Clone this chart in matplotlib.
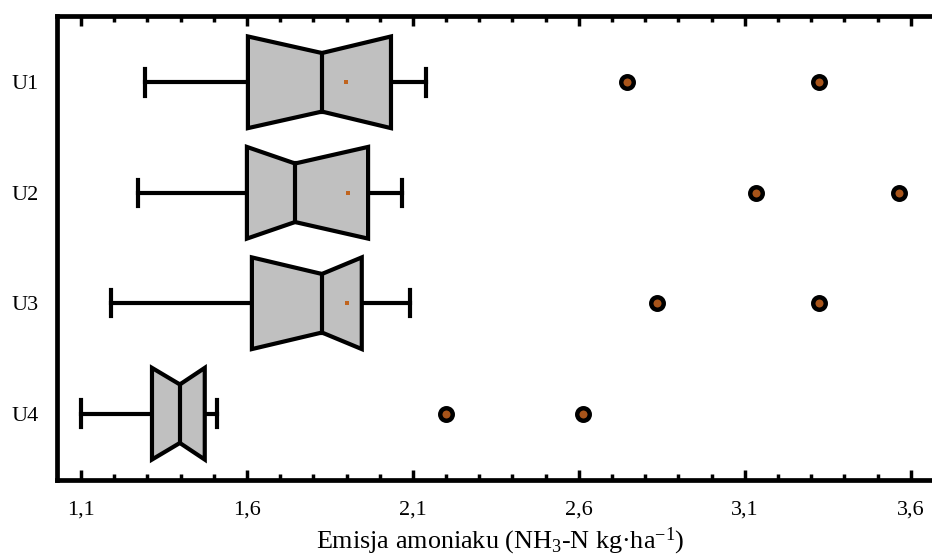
import numpy as np
import matplotlib
matplotlib.use('Agg')
import matplotlib.pyplot as plt
from matplotlib.ticker import MultipleLocator, FuncFormatter

plt.rcParams['font.family'] = ['Liberation Serif', 'DejaVu Serif']
plt.rcParams['mathtext.fontset'] = 'custom'
plt.rcParams['mathtext.rm'] = 'Liberation Serif'
plt.rcParams['mathtext.it'] = 'Liberation Serif:italic'

# box statistics
labels = ['U1', 'U2', 'U3', 'U4']
whislo = [1.293, 1.272, 1.190, 1.100]
q1 = [1.603, 1.600, 1.615, 1.314]
med = [1.826, 1.745, 1.826, 1.398]
q3 = [2.034, 1.965, 1.946, 1.473]
whishi = [2.139, 2.067, 2.091, 1.510]
means = [1.898, 1.904, 1.901, np.nan]
fliers = [[2.745, 3.323], [3.133, 3.564], [2.835, 3.323], [2.199, 2.612]]

fig = plt.figure(figsize=(9.32, 5.56), dpi=100)
ax = fig.add_axes([0.0612, 0.1367, 0.9517, 0.8345])

half = 0.415     # half of box height
notch = 0.15     # notch depth
cap = 0.12
lw = 3.0

for i, lab in enumerate(labels):
    pos = i + 1
    # whiskers
    ax.plot([whislo[i], q1[i]], [pos, pos], color='black', lw=lw, zorder=2)
    ax.plot([q3[i], whishi[i]], [pos, pos], color='black', lw=lw, zorder=2)
    # caps
    ax.plot([whislo[i], whislo[i]], [pos - cap, pos + cap], color='black', lw=lw, zorder=2)
    ax.plot([whishi[i], whishi[i]], [pos - cap, pos + cap], color='black', lw=lw, zorder=2)
    # notched box
    xs = [q1[i], med[i], q3[i], q3[i], med[i], q1[i], q1[i]]
    ys = [pos - half, pos - half + notch, pos - half, pos + half,
          pos + half - notch, pos + half, pos - half]
    ax.fill(xs, ys, facecolor='#c0c0c0', edgecolor='black', lw=lw,
            joinstyle='miter', zorder=3)
    # median
    ax.plot([med[i], med[i]], [pos - half + notch, pos + half - notch],
            color='black', lw=lw, zorder=4)
    # mean
    if not np.isnan(means[i]):
        ax.plot(means[i], pos, marker='s', ms=2.2, color='#c0641e', mew=0, zorder=5)
    # outliers
    ax.plot(fliers[i], [pos] * len(fliers[i]), ls='none', marker='o', ms=9,
            mfc='#a8541a', mec='black', mew=3.2, zorder=5)

ax.set_ylim(4.6, 0.4)
ax.set_yticks(range(1, len(labels) + 1))
ax.set_yticklabels(labels)
ax.set_xlim(1.028, 3.7)
ax.xaxis.set_major_locator(MultipleLocator(0.5, offset=0.1))
ax.xaxis.set_minor_locator(MultipleLocator(0.1))
ax.xaxis.set_major_formatter(FuncFormatter(lambda v, p: f'{v:.1f}'.replace('.', ',')))

ax.tick_params(axis='x', which='both', direction='in', top=True, bottom=True,
               width=2.5, labelsize=16, pad=15, color='black')
ax.tick_params(axis='x', which='major', length=7)
ax.tick_params(axis='x', which='minor', length=4)
ax.tick_params(axis='y', length=0, labelsize=16, pad=13)

for side in ['top', 'bottom', 'left']:
    ax.spines[side].set_linewidth(3.4)
ax.spines['right'].set_visible(False)

ax.set_xlabel('Emisja amoniaku (NH$_3$-N kg·ha$^{-1}$)', fontsize=18.8, labelpad=4)

fig.savefig('out.png', dpi=100)
